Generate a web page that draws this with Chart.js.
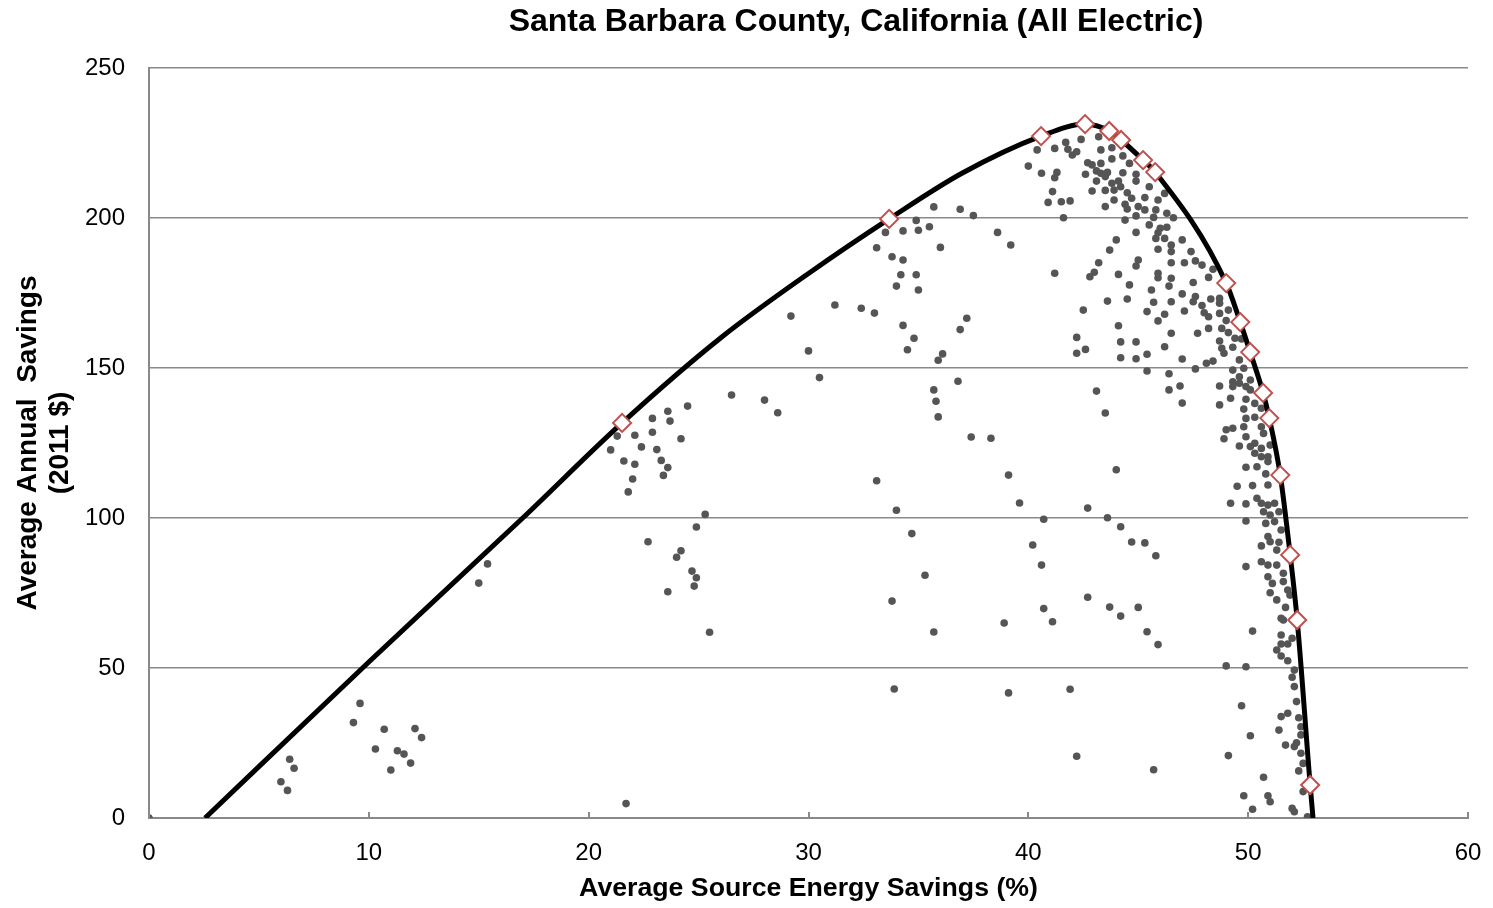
<!DOCTYPE html>
<html>
<head>
<meta charset="utf-8">
<title>Santa Barbara County, California (All Electric)</title>
<script src="https://cdn.jsdelivr.net/npm/chart.js@4.4.0/dist/chart.umd.min.js"></script>
<style>
  html, body { margin: 0; padding: 0; background: #fff; }
  #wrap { position: relative; width: 1493px; height: 908px; }
</style>
</head>
<body>
<div id="wrap"><canvas id="chart" width="1493" height="908"></canvas></div>
<script>
// every simulated measure package: [source energy savings %, annual savings 2011 $]
var packages = [
  [0,0],[6.4,19.6],[6.6,16.6],[6.0,12.1],[6.3,9.2],[9.6,38.2],[9.3,31.8],[10.7,29.6],[10.3,23],[11.3,22.4],
  [11.6,21.3],[11.0,16],[11.9,18.3],[12.1,29.8],[12.4,26.8],[15.0,78.3],[15.4,84.7],
  [21.3,127.3],[21.0,122.7],[22.1,127.6],[22.9,133.2],[23.6,135.6],[23.7,132.3],[24.5,137.3],[22.9,128.6],
  [22.4,123.7],[23.1,122.8],[24.2,126.4],[21.6,119],[22.1,117.9],[23.3,119.2],[23.6,116.8],[23.4,114.2],
  [22.0,113],[21.8,108.7],[26.5,141],[28.0,139.3],[28.6,135.1],[25.3,101.2],[24.9,97],[22.7,92.1],[24.2,89.1],
  [24.0,86.9],[24.7,82.3],[24.9,80.1],[24.8,77.3],[23.6,75.4],[25.5,61.9],[21.7,4.8],
  [35.7,203.7],[36.9,202.9],[37.5,200.8],[34.9,199.2],[35.5,197.1],[33.5,195.2],[34.3,195.7],[35.0,195.9],
  [38.6,195.2],[39.2,191],[33.1,190.1],[36.0,190.2],[33.8,187.1],[34.3,186],[34.2,181.1],[34.9,181.1],
  [34.0,177.3],[35.0,176],[31.2,171],[29.2,167.3],[32.4,169.9],[33.0,168.3],[34.3,164.2],[37.2,166.6],
  [36.9,162.8],[34.8,159.9],[34.5,156.1],[30.0,155.7],[36.1,154.7],[35.9,152.6],[30.5,146.8],[36.8,145.6],
  [35.7,142.7],[35.8,138.9],[35.9,133.7],[37.4,127],[38.3,126.6],
  [33.1,112.4],[39.1,114.3],[39.6,105],[34.0,102.6],[40.7,99.6],[34.7,94.8],[40.2,91],[40.6,84.3],[35.3,80.9],
  [33.8,72.3],[40.7,69.8],[41.1,65.4],[38.9,65],[35.7,62],[33.9,43],[39.1,41.7],
  [43.5,135],[44.0,116.1],[42.7,103.3],[43.6,100.1],[44.2,97.1],[44.7,92],[45.3,91.7],[45.8,87.4],[42.7,73.6],
  [43.7,70.3],[44.2,67.3],[45.0,70.2],[45.4,62.1],[45.9,57.8],[49.0,50.7],[41.9,42.9],[42.2,20.6],[45.7,16.1],
  [49.1,20.8],[47.0,138.3],[48.7,137.7],[49.0,129.4],[49.3,129.9],[48.9,126.4],[49.5,110.6],[49.2,104.9],
  [40.4,222.7],[41.2,223.2],[41.7,225.2],[42.4,226.2],[43.2,227.1],[41.8,222.9],[42.2,222.1],[42.0,221],
  [43.3,222.7],[43.8,223.4],[40.0,217.3],[42.7,218.4],[42.9,217.7],[43.3,218.2],[43.8,219.7],[44.6,218.2],
  [44.3,220.7],[40.6,214.9],[41.3,215.2],[41.2,213.4],[42.6,214.6],[43.1,215.7],[43.3,214.9],[43.6,215.2],
  [44.3,215.1],[44.9,214.6],[43.1,212.3],[43.5,213.8],[41.1,208.8],[42.9,209],[43.5,209.2],[43.8,211.6],
  [44.1,212.3],[44.2,210.4],[44.9,212.3],[45.5,210.4],[43.9,209.3],[40.9,205.2],[41.5,205.4],[41.9,205.7],
  [44.5,208.4],[43.9,206],[44.4,204.6],[44.7,206.6],[45.3,206.8],[45.9,206],[46.2,208.2],[43.5,203.8],
  [44.5,203],[45.0,203.8],[45.3,202.7],[41.6,200.1],[44.4,199.3],[44.9,200.7],[45.8,202.7],[46.3,201.6],
  [45.7,200.2],[46.6,200.1],[45.5,197.7],[46.0,196.6],[46.3,196.9],[44.9,195.2],[45.9,195.1],[45.8,193.2],
  [46.2,193.2],[44.0,192.7],[43.7,189.3],[45.9,189.6],[46.5,191],[46.5,188.8],[43.2,185.1],[45.0,186],
  [44.9,184],[43.0,181.9],[42.8,180.4],[41.2,181.6],[44.1,181.2],[45.9,181.6],[45.9,180.1],[46.5,179.9],
  [46.5,185.1],[47.1,185.1],[47.9,184.3],[47.6,185.7],[44.6,177.7],[45.6,176],[46.4,177.3],[47.5,178.5],
  [48.2,180.2],[47.0,174.7],[43.6,172.3],[44.5,173],[45.7,171.9],[46.5,172.1],[47.5,172.1],[47.6,173.8],
  [48.3,173],[48.7,173.2],[47.9,170.8],[48.7,171.6],[45.4,168.8],[46.2,167.9],[47.1,169],[48.0,168.4],
  [48.2,167.1],[48.7,168.2],[49.1,169.3],[45.9,165.7],[44.1,164.1],[46.5,161.6],[47.7,161.6],[48.2,163.2],
  [48.8,163.2],[49.0,165.8],[49.1,161.8],[49.4,159.9],[49.7,159.7],[48.7,159],[44.2,158.7],[44.9,158.7],
  [46.2,157.1],[48.8,156.6],[48.9,154.9],[49.3,156.9],[45.4,154.6],[44.2,153.4],[44.9,153.1],[47.0,153],
  [48.1,151.6],[48.4,152.3],[49.6,152.7],[45.4,149],[47.6,149.7],[46.4,148.1],[49.3,149.3],[49.6,147.1],
  [49.3,145.4],[48.7,144],[46.9,144],[46.4,142.7],[43.1,142.3],[49.3,143.8],[49.9,143.8],[49.2,139.9],
  [49.9,139.6],[49.8,136.3],
  [42.5,169.3],[42.2,160.2],[42.2,154.9],[42.6,156.2],[47.0,192.7],[47.4,188.8],[48.4,182.9],
  [49.8,149.9],[50.1,146],[49.6,144.9],[50.1,142.7],[50.3,138.2],[50.6,136.6],[49.9,133.2],[50.3,133.6],
  [49.8,130.4],[50.6,130.4],[50.7,128.2],[49.9,127.1],[50.3,124.9],[49.6,124],[50.1,123.8],[50.6,123.2],
  [51.0,124.3],[50.3,121.6],[50.6,120.4],[50.9,120.4],[50.9,118.8],[49.9,116.9],[50.4,117.1],[50.8,114.7],
  [50.2,110.8],[50.9,111],[50.4,106.6],[50.6,104.9],[50.9,104.3],[49.9,104.7],[51.2,104.9],[50.7,102.1],
  [51.0,101],[51.4,102.1],[49.9,99],[50.8,98.2],[51.2,98.8],[51.5,96],[50.9,93.8],[51.0,92.1],[51.4,91.9],
  [50.6,90.7],[51.3,89.3],[49.9,83.8],[50.6,85.4],[50.9,84.3],[51.3,84.3],[50.9,80.4],
  [51.6,81.6],[51.1,78.2],[51.6,78.8],[51.0,75.1],[51.8,76],[51.9,74.3],[51.3,72.7],[51.7,70.2],[51.5,66.6],
  [51.6,66],[50.2,62.3],[51.5,61],[52.0,59.9],[51.5,58],[51.8,58],[51.3,56],[51.5,54],[51.8,52.4],[49.9,50.4],
  [52.1,49.3],[52.0,46.9],[52.1,43.8],[49.7,37.4],[52.2,38.8],[51.5,33.8],[51.8,34.9],[52.3,33.4],[52.4,30.4],
  [51.4,29.3],[50.1,27.4],[52.4,27.7],[51.7,24.3],[52.2,25.1],[52.1,23.8],[52.4,21.6],[52.5,18.2],[52.3,15.7],
  [50.7,13.6],[49.8,7.4],[50.9,7.4],[51.0,5.4],[50.2,2.9],[52.0,3.2],[52.1,2.1],[52.5,8.8],[52.7,0.4]
];

// optimal packages along the frontier
var optimalPct = [21.52, 33.67, 40.58, 42.58, 43.68, 44.22, 45.22, 45.77, 49.0, 49.64, 50.09, 50.68, 50.96, 51.46, 51.91, 52.23, 52.82];
var optimalUsd = [131.7, 199.7, 227.3, 231.3, 229, 226, 219.3, 215.3, 178.3, 165.3, 155.3, 141.7, 133.3, 114.3, 87.7, 66, 11];

// frontier curve
var curvePct = [2.55, 10, 17, 21.52, 26, 30, 33.67, 37, 40.58, 42.58, 43.68, 44.22, 45.22, 45.77, 49.0, 49.64, 50.09, 50.68, 50.96, 51.46, 51.91, 52.23, 52.82, 52.95];
var curveUsd = [0, 52, 100, 131.7, 160, 181.5, 199.7, 215, 227.3, 231.3, 229, 226, 219.3, 215.3, 178.3, 165.3, 155.3, 141.7, 133.3, 114.3, 87.7, 66, 11, 0];

var xMax = 60, xStep = 10;
var yMax = 250, yStep = 50;

function toPoints(xs, ys){
    var out = [];
    for (var i = 0; i < xs.length; i++) out.push({x: xs[i], y: ys[i]});
    return out;
}

var titleText = "Santa Barbara County, California (All Electric)";
var fontFam = "'Liberation Sans', Arial, sans-serif";
var gridGray = "#898989";

// chart title, placed the way the spreadsheet put it
var titlePlugin = {
    id: "sheetTitle",
    afterDraw: function(chart){
        var ctx = chart.ctx;
        ctx.save();
        ctx.font = "bold 32px " + fontFam;
        ctx.fillStyle = "#000";
        ctx.textAlign = "center";
        ctx.textBaseline = "middle";
        ctx.fillText(titleText, 856, 22);
        ctx.restore();
    }
};

// short tick marks pointing up into the plot from the x axis
var innerTicks = {
    id: "innerTicks",
    afterDatasetsDraw: function(chart){
        var sx = chart.scales.x, ctx = chart.ctx;
        var bottom = chart.chartArea.bottom;
        ctx.save();
        ctx.strokeStyle = gridGray;
        ctx.lineWidth = 2;
        sx.ticks.forEach(function(t){
            var px = Math.round(sx.getPixelForValue(t.value));
            ctx.beginPath();
            ctx.moveTo(px, bottom);
            ctx.lineTo(px, bottom - 6);
            ctx.stroke();
        });
        ctx.restore();
    }
};

var ctx = document.getElementById("chart").getContext("2d");
new Chart(ctx, {
    type: "scatter",
    data: {
        datasets: [{
            label: "Optimal packages",
            data: toPoints(optimalPct, optimalUsd),
            pointStyle: "rectRot",
            pointRadius: 9,
            pointHoverRadius: 9,
            pointBackgroundColor: "#ffffff",
            pointBorderColor: "#c0504d",
            pointBorderWidth: 2,
            order: 0
        }, {
            label: "Frontier",
            data: toPoints(curvePct, curveUsd),
            showLine: true,
            borderColor: "#000000",
            borderWidth: 5,
            cubicInterpolationMode: "monotone",
            pointRadius: 0,
            pointHoverRadius: 0,
            order: 1
        }, {
            label: "Packages",
            data: packages.map(function(p){ return {x: p[0], y: p[1]}; }),
            pointStyle: "circle",
            pointRadius: 3.8,
            pointHoverRadius: 3.8,
            pointBackgroundColor: "#555555",
            pointBorderWidth: 0,
            order: 2
        }]
    },
    options: {
        responsive: false,
        animation: false,
        layout: { padding: { left: 0, right: 25, top: 68, bottom: 0 } },
        plugins: {
            legend: { display: false },
            tooltip: { enabled: false }
        },
        scales: {
            x: {
                type: "linear",
                min: 0,
                max: xMax,
                afterFit: function(scale){
                    scale.height = 90;
                    scale.paddingLeft = 0;
                    scale.paddingRight = 0;
                },
                grid: { display: true, drawOnChartArea: false, drawTicks: false },
                border: { display: true, color: gridGray, width: 2 },
                ticks: {
                    stepSize: xStep,
                    padding: 21,
                    color: "#000",
                    font: { family: fontFam, size: 24 }
                },
                title: {
                    display: true,
                    text: "Average Source Energy Savings (%)",
                    color: "#000",
                    padding: { top: 0, bottom: 3 },
                    font: { family: fontFam, size: 26.7, weight: "bold" }
                }
            },
            y: {
                type: "linear",
                min: 0,
                max: yMax,
                afterFit: function(scale){ scale.width = 149; },
                grid: { display: true, color: gridGray, lineWidth: 1.5, drawTicks: false },
                border: { display: true, color: gridGray, width: 2 },
                ticks: {
                    stepSize: yStep,
                    padding: 24,
                    color: "#000",
                    font: { family: fontFam, size: 24 }
                },
                title: {
                    display: true,
                    text: ["Average Annual  Savings", "(2011 $)"],
                    color: "#000",
                    padding: { top: 12, bottom: 0 },
                    font: { family: fontFam, size: 28, weight: "bold", lineHeight: 1.15 }
                }
            }
        }
    },
    plugins: [titlePlugin, innerTicks]
});
</script>
</body>
</html>
